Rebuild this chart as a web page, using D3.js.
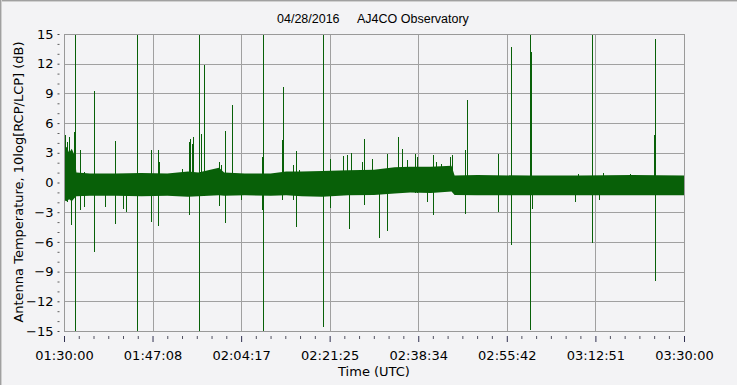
<!DOCTYPE html>
<html>
<head>
<meta charset="utf-8">
<script src="https://cdn.jsdelivr.net/npm/d3@7"></script>
<style>
  html, body { margin: 0; padding: 0; background: #ffffff; }
  svg { display: block; }
</style>
</head>
<body>
<div id="chart"></div>
<script>
// x values are minutes after 01:30:00 UTC, y values in dB
const xTickLabels = ["01:30:00", "01:47:08", "02:04:17", "02:21:25", "02:38:34", "02:55:42", "03:12:51", "03:30:00"];
const yTickValues = [-15, -12, -9, -6, -3, 0, 3, 6, 9, 12, 15];

// background noise band (envelope of the trace)
const bandTime = [0, 0.5, 1.0, 1.5, 2.0, 2.4, 5, 10, 15, 20, 24, 26, 30, 31, 35, 40, 43, 46, 50, 55, 60, 64, 67, 71, 75, 75.6, 80, 90, 100, 110, 120];
const bandHigh = [3.2, 3.6, 3.0, 3.4, 2.8, 1.0, 0.9, 0.9, 0.95, 0.9, 1.1, 1.0, 1.5, 1.0, 0.9, 0.9, 1.1, 1.1, 1.15, 1.25, 1.3, 1.55, 1.6, 1.6, 1.7, 0.7, 0.75, 0.7, 0.7, 0.75, 0.7];
const bandLow = [-1.8, -1.9, -1.7, -1.9, -1.6, -1.4, -1.35, -1.35, -1.4, -1.35, -1.45, -1.4, -1.3, -1.35, -1.3, -1.35, -1.3, -1.4, -1.45, -1.3, -1.25, -1.1, -1.0, -1.05, -0.9, -1.25, -1.3, -1.3, -1.3, -1.3, -1.3];

// individual spikes
const spikeTime = [0.13, 0.58, 1.03, 1.42, 1.87, 2.19, 3.16, 3.8, 5.87, 7.87, 9.94, 11.35, 12.06, 14.19, 16.9, 18.13, 18.45, 22.84,
  24.13, 24.39, 24.77, 25.03, 26.19, 26.58, 27.16, 29.94, 30.06, 30.32, 31.1, 32.58, 34.26, 38.32, 38.45, 42.19, 42.45, 44.39, 44.97, 45.55,
  50.19, 51.48, 53.94, 54.71, 55.1, 55.61, 57.61, 58.13, 59.68, 60.97, 62.45, 64.58, 65.48, 66.32, 67.94, 68.26, 70.32, 71.35,
  71.94, 72.9, 74.71, 75.16, 77.68, 78.06, 84.06, 86.45, 90.13, 90.26, 90.45, 90.65,
  98.84, 99.48, 102.26, 103.48, 104.3, 109.5, 114.19, 114.32];
const spikeHigh = [4.76, 4.09, 4.6, 3.25, 5.1, 15, 3.25, 1.06, 9.21, 0.9, 4.16, 0.9, 0.9, 15, 3.25, 3.25, 2.07, 1.4,
  4.09, 4.43, 3.92, 4.6, 15, 4.93, 11.84, 2.07, 1.9, 1.73, 5.2, 7.86, 0.9, 2.58, 15, 4.26, 9.65, 1.73, 3.18, 1.23,
  15, 2.41, 2.68, 2.81, 1.0, 2.98, 2.07, 4.43, 2.41, 1.0, 2.85, 4.6, 3.42, 2.24, 2.91, 2.58, 1.2, 2.81,
  2.07, 1.9, 2.58, 2.81, 3.25, 8.3, 2.85, 13.69, 8.13, 15, 13.18, 0.7,
  0.7, 0.89, 15, 0.7, 0.95, 0.9, 4.76, 14.53];
const spikeLow = [-1.6, -2.0, -1.7, -4.26, -1.46, -15, -2.81, -2.47, -7.02, -2.47, -4.16, -2.64, -2.98, -15, -4.0, -4.43, -1.3, -1.3,
  -3.32, -1.4, -1.4, -1.4, -15, -1.4, -1.4, -1.3, -2.37, -1.3, -4.06, -1.3, -1.8, -2.81, -15, -1.8, -1.3, -1.8, -4.5, -1.4,
  -14.6, -2.58, -1.3, -1.3, -4.73, -1.3, -1.3, -2.24, -1.3, -5.57, -4.93, -1.1, -1.0, -1.0, -1.05, -1.05, -1.97, -3.25,
  -1.0, -1.0, -0.9, -0.9, -3.15, -1.3, -2.98, -6.35, -2.64, -14.9, -1.3, -2.64,
  -1.97, -1.3, -6.1, -1.8, -1.3, -1.3, -1.3, -9.98];

const W = 740, H = 389;
const plotLeft = 64, plotRight = 684, plotTop = 34, plotBottom = 331;
const bg = "#f3f3f5";
const grid = "#a0a0a0";
const trace = "#086008";

function labelToMinutes(s) {
  const p = s.split(":").map(Number);
  return (p[0] * 60 + p[1] + p[2] / 60) - 90;
}
const xTickValues = xTickLabels.map(labelToMinutes);

const x = d3.scaleLinear().domain([0, 120]).range([plotLeft, plotRight]);
const y = d3.scaleLinear().domain([-15, 15]).range([plotBottom, plotTop]);

const svg = d3.select("#chart").append("svg")
  .attr("width", W)
  .attr("height", H);

// panel background and sunken border
svg.append("rect").attr("x", 0).attr("y", 0).attr("width", 738).attr("height", 386).attr("fill", bg);
svg.append("line").attr("x1", 0).attr("x2", 738).attr("y1", 0.5).attr("y2", 0.5).attr("stroke", "#a0a0a0");
svg.append("line").attr("x1", 0).attr("x2", 738).attr("y1", 1.5).attr("y2", 1.5).attr("stroke", "#d0d0d0");
svg.append("line").attr("x1", 0.5).attr("x2", 0.5).attr("y1", 0).attr("y2", 386).attr("stroke", "#a0a0a0");
svg.append("line").attr("x1", 1.5).attr("x2", 1.5).attr("y1", 0).attr("y2", 386).attr("stroke", "#d0d0d0");
svg.append("line").attr("x1", 737.5).attr("x2", 737.5).attr("y1", 0).attr("y2", 386).attr("stroke", "#ffffff");
svg.append("line").attr("x1", 0).attr("x2", 738).attr("y1", 385.5).attr("y2", 385.5).attr("stroke", "#ffffff");

// title
svg.append("text").attr("x", 277).attr("y", 22.5)
  .attr("font-family", "Liberation Sans, Arial, sans-serif").attr("font-size", 12.5).attr("fill", "#000")
  .text("04/28/2016");
svg.append("text").attr("x", 357).attr("y", 22.5)
  .attr("font-family", "Liberation Sans, Arial, sans-serif").attr("font-size", 12.5).attr("fill", "#000")
  .text("AJ4CO Observatory");

// grid
const g = svg.append("g").attr("shape-rendering", "crispEdges");
g.selectAll(".hgrid").data(yTickValues).enter().append("line")
  .attr("x1", plotLeft).attr("x2", plotRight)
  .attr("y1", d => Math.round(y(d)) + 0.5).attr("y2", d => Math.round(y(d)) + 0.5)
  .attr("stroke", grid);
g.selectAll(".vgrid").data(xTickValues).enter().append("line")
  .attr("y1", plotTop).attr("y2", plotBottom)
  .attr("x1", d => Math.round(x(d)) + 0.5).attr("x2", d => Math.round(x(d)) + 0.5)
  .attr("stroke", grid);

// trace
const area = d3.area()
  .x((d, i) => x(bandTime[i]))
  .y0((d, i) => y(bandLow[i]))
  .y1((d, i) => y(bandHigh[i]));
svg.append("path").datum(bandTime).attr("d", area).attr("fill", trace);

svg.append("g").attr("shape-rendering", "crispEdges")
  .selectAll(".spike").data(spikeTime).enter().append("line")
  .attr("x1", d => Math.round(x(d)) + 0.5).attr("x2", d => Math.round(x(d)) + 0.5)
  .attr("y1", (d, i) => y(spikeHigh[i])).attr("y2", (d, i) => y(spikeLow[i]))
  .attr("stroke", trace).attr("stroke-width", 1);

// plot frame
svg.append("rect").attr("x", plotLeft + 0.5).attr("y", plotTop + 0.5)
  .attr("width", plotRight - plotLeft).attr("height", plotBottom - plotTop)
  .attr("fill", "none").attr("stroke", "#999999").attr("shape-rendering", "crispEdges");

// y axis (ticks detached from the frame)
const yMinor = d3.range(-15, 16).filter(v => v % 3 !== 0);
const yAxis = svg.append("g").attr("transform", "translate(59.5,0)")
  .call(d3.axisLeft(y).tickValues(yTickValues).tickSize(2).tickPadding(4).tickFormat(d3.format("d")));
yAxis.select(".domain").remove();
yAxis.selectAll("line").attr("stroke", "#404040");
yAxis.selectAll("text").attr("font-family", "DejaVu Sans, Verdana, sans-serif").attr("font-size", 13).attr("fill", "#000");
const yAxisMinor = svg.append("g").attr("transform", "translate(59.5,0)")
  .call(d3.axisLeft(y).tickValues(yMinor).tickSize(2).tickFormat(""));
yAxisMinor.select(".domain").remove();
yAxisMinor.selectAll("line").attr("stroke", "#606060");

// x axis
const step = (xTickValues[1] - xTickValues[0]) / 6;
const xMinor = d3.range(0, 42).filter(i => i % 6 !== 0).map(i => i * step);
const xAxis = svg.append("g").attr("transform", "translate(0,336)")
  .call(d3.axisBottom(x).tickValues(xTickValues).tickSize(6).tickFormat((d, i) => xTickLabels[i]));
xAxis.select(".domain").remove();
xAxis.selectAll("line").attr("stroke", "#303050");
xAxis.selectAll("text").attr("y", 24).attr("dy", null)
  .attr("font-family", "DejaVu Sans, Verdana, sans-serif").attr("font-size", 13).attr("fill", "#000");
const xAxisMinor = svg.append("g").attr("transform", "translate(0,336)")
  .call(d3.axisBottom(x).tickValues(xMinor).tickSize(3).tickFormat(""));
xAxisMinor.select(".domain").remove();
xAxisMinor.selectAll("line").attr("stroke", "#505060");

// axis titles
svg.append("text").attr("x", 374).attr("y", 376).attr("text-anchor", "middle")
  .attr("font-family", "DejaVu Sans, Verdana, sans-serif").attr("font-size", 13).attr("fill", "#000")
  .text("Time (UTC)");
svg.append("text").attr("transform", "translate(23,182) rotate(-90)").attr("text-anchor", "middle")
  .attr("font-family", "DejaVu Sans, Verdana, sans-serif").attr("font-size", 13).attr("fill", "#000")
  .text("Antenna Temperature, 10log[RCP/LCP] (dB)");
</script>
</body>
</html>
